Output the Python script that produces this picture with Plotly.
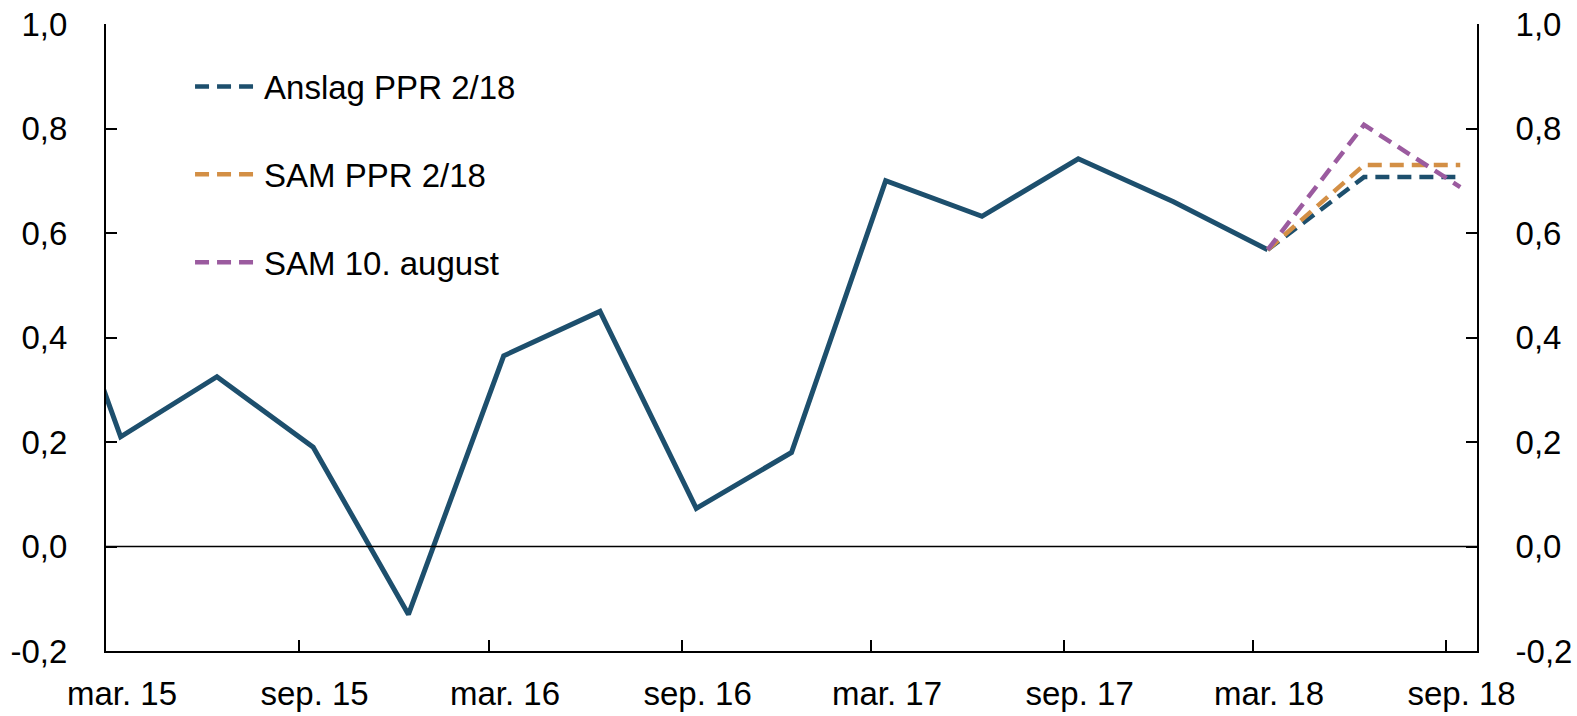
import plotly.graph_objects as go

# kvartalsdata (midt i siste måned i kvartalet)
hist_dates = ["2014-12-15", "2015-03-15", "2015-06-15", "2015-09-15", "2015-12-15",
              "2016-03-15", "2016-06-15", "2016-09-15", "2016-12-15", "2017-03-15",
              "2017-06-15", "2017-09-15", "2017-12-15", "2018-03-15"]
hist_values = [0.71, 0.21, 0.325, 0.19, -0.13, 0.365, 0.45, 0.073, 0.18, 0.70,
               0.632, 0.742, 0.66, 0.568]

fc_dates = ["2018-03-15", "2018-06-15", "2018-09-15"]
anslag_ppr = [0.568, 0.707, 0.707]
sam_ppr = [0.568, 0.73, 0.73]
sam_aug = [0.568, 0.807, 0.688]

tick_dates = ["2015-03-01", "2015-09-01", "2016-03-01", "2016-09-01",
              "2017-03-01", "2017-09-01", "2018-03-01", "2018-09-01"]
tick_labels = ["mar. 15", "sep. 15", "mar. 16", "sep. 16",
               "mar. 17", "sep. 17", "mar. 18", "sep. 18"]
y_ticks = [-0.2, 0.0, 0.2, 0.4, 0.6, 0.8, 1.0]
y_labels = ["-0,2", "0,0", "0,2", "0,4", "0,6", "0,8", "1,0"]

BLUE = "#1d4f6d"
ORANGE = "#d38f45"
PURPLE = "#9b5b9f"
FONT = "Liberation Sans, Arial, sans-serif"
FS = 33

fig = go.Figure()
fig.add_trace(go.Scatter(x=hist_dates, y=hist_values, mode="lines", showlegend=False,
                         line=dict(color=BLUE, width=5)))
for name, vals, col in [("Anslag PPR 2/18", anslag_ppr, BLUE),
                        ("SAM PPR 2/18", sam_ppr, ORANGE),
                        ("SAM 10. august", sam_aug, PURPLE)]:
    fig.add_trace(go.Scatter(x=fc_dates, y=vals, mode="lines", name=name, legendgroup=name,
                             line=dict(color=col, width=4.5, dash="14px,8px")))
# usynlig spor for høyre akse
fig.add_trace(go.Scatter(x=hist_dates, y=hist_values, yaxis="y2", mode="lines",
                         showlegend=False, hoverinfo="skip", line=dict(width=0),
                         opacity=0))

axis_common = dict(range=[-0.2, 1.0], tickvals=y_ticks, ticktext=y_labels,
                   ticks="inside", ticklen=11, tickwidth=2, tickcolor="black",
                   showline=True, linecolor="black", linewidth=2, showgrid=False,
                   zeroline=False, tickfont=dict(size=FS, color="black", family=FONT),
                   ticklabelstandoff=30, automargin=False, ticklabeloverflow="allow")

fig.update_layout(
    width=1577, height=716,
    margin=dict(l=106, r=100, t=24, b=65),
    plot_bgcolor="white", paper_bgcolor="white",
    font=dict(family=FONT, size=FS, color="black"),
    xaxis=dict(range=["2015-03-01", "2018-10-01"], tickvals=tick_dates, ticktext=tick_labels,
               ticks="inside", ticklen=11, tickwidth=2, tickcolor="black",
               showline=True, linecolor="black", linewidth=2, showgrid=False, zeroline=False,
               tickfont=dict(size=FS, color="black", family=FONT), ticklabelstandoff=12,
               ticklabelshift=16, automargin=False, ticklabeloverflow="allow"),
    yaxis=dict(**axis_common),
    yaxis2=dict(overlaying="y", side="right", **axis_common),
    legend=dict(x=0.0613, y=0.945, xanchor="left", yanchor="top", bgcolor="rgba(0,0,0,0)",
                font=dict(size=FS, color="black", family=FONT), tracegroupgap=42,
                itemwidth=64),
    showlegend=True,
)
fig.add_hline(y=0, line=dict(color="black", width=1.5))

fig.write_html("out.html", config={"displayModeBar": False},
               post_script="document.body.style.margin='0px';")
